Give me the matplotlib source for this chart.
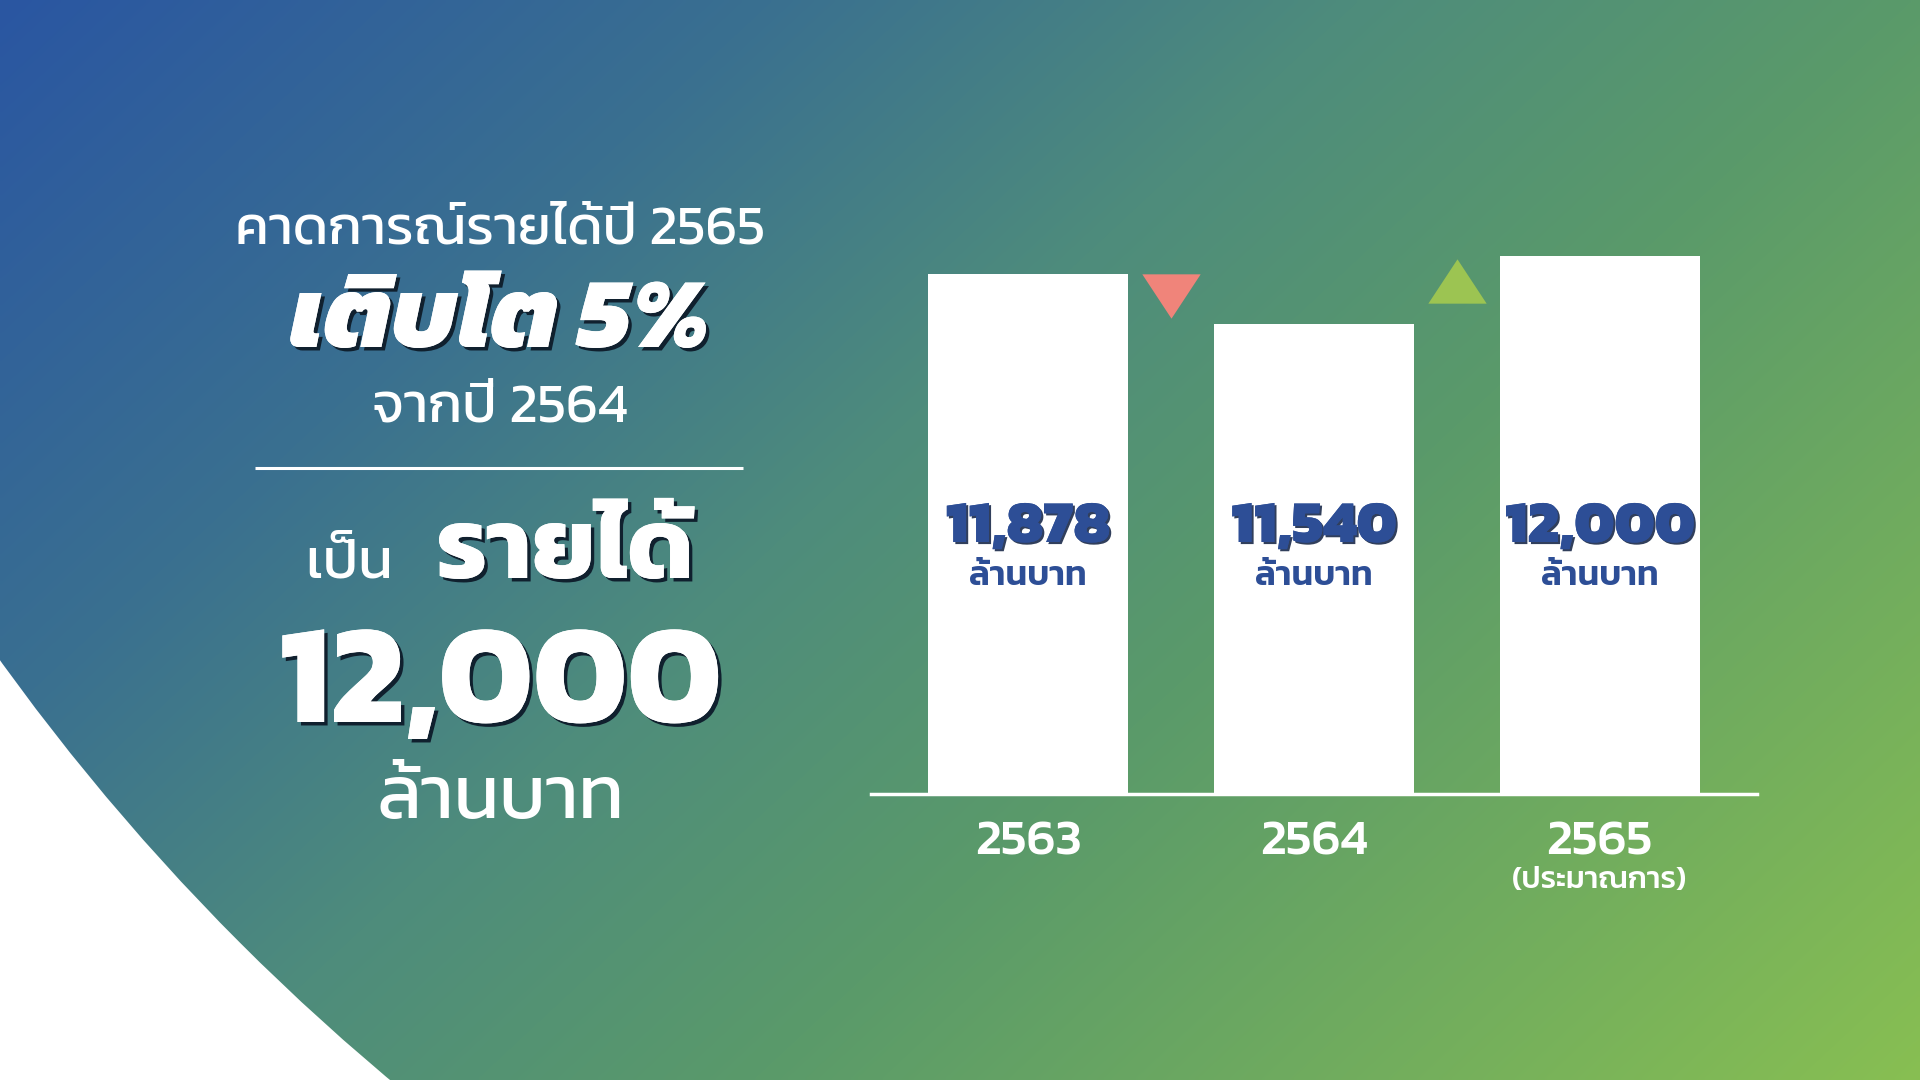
import numpy as np
import matplotlib
matplotlib.use("Agg")
import matplotlib.pyplot as plt
import matplotlib.patheffects as pe
from matplotlib import font_manager
from matplotlib.patches import Circle

# data
years = ["2563", "2564", "2565"]
year_notes = ["", "", "(ประมาณการ)"]
revenue = [11878, 11540, 12000]
unit = "ล้านบาท"

# Kanit if it is there, otherwise another Thai font
names = {f.name for f in font_manager.fontManager.ttflist}
thai = [n for n in ["Kanit", "Prompt", "Athiti", "Loma"] if n in names]
plt.rcParams["font.family"] = thai[:1] + ["DejaVu Sans"]

W, H = 1920, 1080
fig = plt.figure(figsize=(W / 100, H / 100), dpi=100, facecolor="white")

# background gradient clipped to a big circle (white corner bottom-left)
bg = fig.add_axes([0, 0, 1, 1])
bg.set_xlim(0, W)
bg.set_ylim(H, 0)
bg.axis("off")
yy, xx = np.mgrid[0:H:4, 0:W:4]
t = (xx * 950 + yy * 1020) / (1920 * 950 + 1080 * 1020)
stops = [0.0, 0.25, 0.44, 0.62, 1.0]
cols = np.array([[0x2A, 0x56, 0xA2], [0x3A, 0x70, 0x90], [0x4E, 0x8C, 0x7C],
                 [0x5A, 0x9A, 0x6A], [0x88, 0xBF, 0x52]]) / 255
img = np.dstack([np.interp(t, stops, cols[:, i]) for i in range(3)])
im = bg.imshow(img, extent=[0, W, H, 0], aspect="auto", interpolation="bilinear")
im.set_clip_path(Circle((1858, -675), 2288, transform=bg.transData))

shadow = [pe.withSimplePatchShadow(offset=(2.5, -2.5), shadow_rgbFace="#10202e", alpha=1), pe.Normal()]

# left text block
bg.text(500, 244, "คาดการณ์รายได้ปี 2565", color="white", fontsize=39.5, ha="center", va="baseline")
bg.text(500, 347, "เติบโต 5%", color="white", fontsize=72, fontweight=800, fontstyle="italic",
        ha="center", va="baseline", path_effects=shadow)
bg.text(500, 421, "จากปี 2564", color="white", fontsize=40, ha="center", va="baseline")
bg.plot([255, 743], [468, 468], color="white", lw=2.2, solid_capstyle="butt")
bg.text(349, 578, "เป็น", color="white", fontsize=41, ha="center", va="baseline")
bg.text(565, 578, "รายได้", color="white", fontsize=72, fontweight="bold", ha="center", va="baseline",
        path_effects=shadow)
bg.text(500, 722, f"{revenue[2]:,}", color="white", fontsize=102, fontweight="bold", ha="center",
        va="baseline", path_effects=shadow)
bg.text(500, 818, unit, color="white", fontsize=54, ha="center", va="baseline")

# bar chart
k = 0.1476  # px per unit
base = 8353
ax = fig.add_axes([871 / W, (H - 794) / H, 886 / W, 644 / H])
ax.patch.set_alpha(0)
ax.set_xlim(-0.55, 2.55)
ax.set_ylim(base, base + 644 / k)
ax.axis("off")
x = np.arange(len(years))
ax.bar(x, np.array(revenue) - base, bottom=base, width=0.70, color="white")
ax.axhline(base, color="white", lw=2.5, clip_on=False)

tri_dn = [(-1, 0.76), (1, 0.76), (0, -0.76)]
tri_up = [(-1, -0.76), (1, -0.76), (0, 0.76)]
ax.scatter([0.5], [revenue[0] - 22 / k], marker=tri_dn, s=42 ** 2, color="#F0847A", linewidths=0)
ax.scatter([1.5], [revenue[2] - 25 / k], marker=tri_up, s=42 ** 2, color="#9CC452", linewidths=0)

val_y = base + (794 - 542) / k
unit_y = base + (794 - 585) / k
lab_shadow = [pe.withSimplePatchShadow(offset=(1.5, -1.5), shadow_rgbFace="#1a2a4a", alpha=0.9), pe.Normal()]
for xi, v in zip(x, revenue):
    ax.text(xi, val_y, f"{v:,}", color="#2D4E96", fontsize=43, fontweight=800, ha="center",
            va="baseline", path_effects=lab_shadow)
    ax.text(xi, unit_y, unit, color="#2D4E96", fontsize=25, fontweight=600, ha="center", va="baseline")

yr_y = base - (855 - 794) / k
note_y = base - (888 - 794) / k
for xi, yr, note in zip(x, years, year_notes):
    ax.text(xi, yr_y, yr, color="white", fontsize=36, fontweight=500, ha="center", va="baseline")
    if note:
        ax.text(xi, note_y, note, color="white", fontsize=22, fontweight=500, ha="center", va="baseline")

fig.savefig("out.png", dpi=100, facecolor="white")
